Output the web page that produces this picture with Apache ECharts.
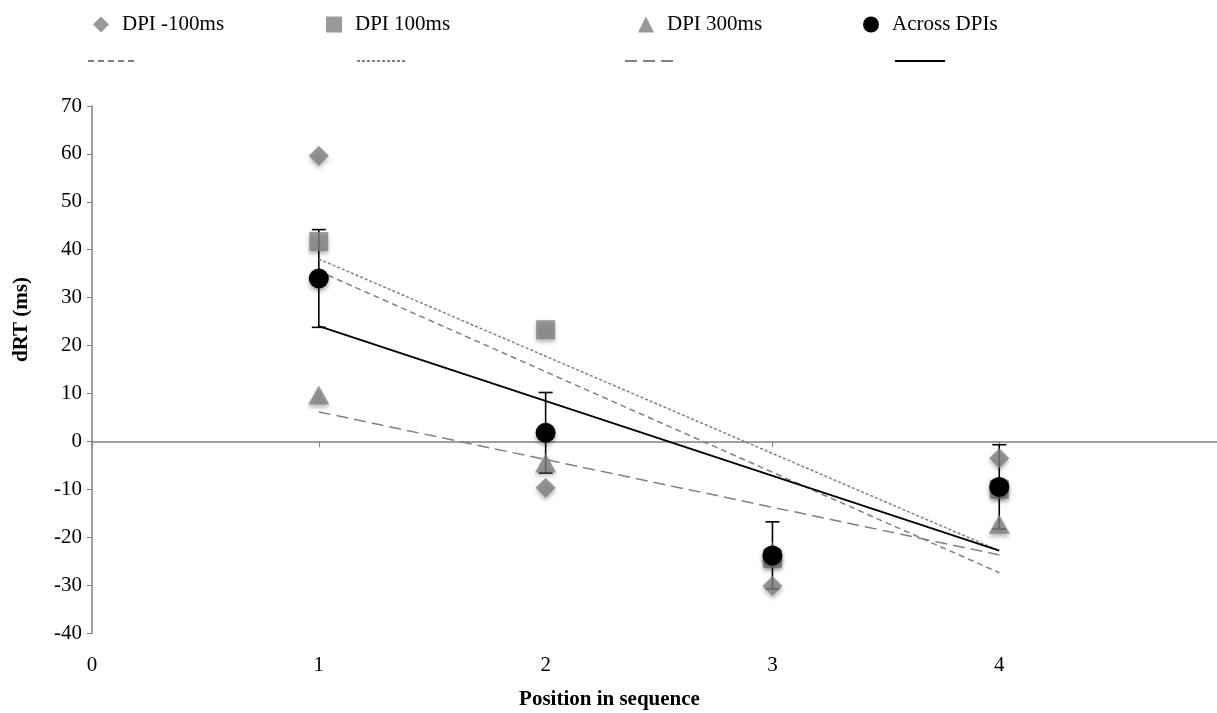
<!DOCTYPE html>
<html>
<head>
<meta charset="utf-8">
<script src="https://cdn.jsdelivr.net/npm/echarts@6/dist/echarts.min.js"></script>
<style>
  html, body { margin: 0; padding: 0; background: #fff; }
  #chart { width: 1217px; height: 713px; }
</style>
</head>
<body>
<div id="chart"></div>
<script>
// values
var positions = [1, 2, 3, 4];
var dpiMinus100 = [59.6, -9.7, -30.2, -3.5];
var dpi100 = [41.7, 23.3, -24.5, -10];
var dpi300 = [9.7, -4.5, -23, -17.3];
var acrossDpis = [34, 1.8, -23.8, -9.5];
var acrossErr = [10.2, 8.4, 7, 8.8];
var xTickLabels = ['0', '1', '2', '3', '4'];
var yTicks = { min: -40, max: 70, step: 10 };

var serif = 'Liberation Serif';
var gray = '#808080';

// least squares trend line, drawn over the data range like the spreadsheet does
function trend(ys) {
  var n = ys.length, mx = 0, my = 0;
  for (var i = 0; i < n; i++) { mx += positions[i]; my += ys[i]; }
  mx /= n; my /= n;
  var sxy = 0, sxx = 0;
  for (var j = 0; j < n; j++) {
    sxy += (positions[j] - mx) * (ys[j] - my);
    sxx += (positions[j] - mx) * (positions[j] - mx);
  }
  var b = sxy / sxx, a = my - b * mx;
  var x0 = positions[0], x1 = positions[n - 1];
  return [[x0, a + b * x0], [x1, a + b * x1]];
}

function pairs(ys) {
  return positions.map(function (x, i) { return [x, ys[i]]; });
}

var shadow = {
  shadowBlur: 4,
  shadowOffsetY: 3,
  shadowColor: 'rgba(0,0,0,0.35)'
};

function markerLegend(name, left) {
  return {
    data: [name],
    left: left,
    top: 9,
    itemWidth: 16,
    itemHeight: 16,
    textStyle: { fontFamily: serif, fontSize: 21, color: '#000', padding: [0, 0, 0, 8] },
    selectedMode: false
  };
}

function lineLegend(name, left) {
  return {
    data: [name],
    left: left,
    top: 49,
    itemWidth: 50,
    itemHeight: 14,
    itemStyle: { opacity: 0 },
    formatter: function () { return ''; },
    selectedMode: false
  };
}

function trendSeries(name, ys, color, width, dash) {
  return {
    name: name,
    type: 'line', z: 2, silent: true,
    showSymbol: false,
    data: trend(ys),
    itemStyle: { color: color },
    lineStyle: { color: color, width: width, type: dash }
  };
}

var option = {
  animation: false,
  legend: [
    markerLegend('DPI -100ms', 88),
    markerLegend('DPI 100ms', 321),
    markerLegend('DPI 300ms', 633),
    markerLegend('Across DPIs', 858),
    lineLegend('Linear (DPI -100ms)', 82),
    lineLegend('Linear (DPI 100ms)', 351),
    lineLegend('Linear (DPI 300ms)', 619),
    lineLegend('Linear (Across DPIs)', 889)
  ],
  grid: { left: 92, right: 0, top: 106, bottom: 80, outerBoundsMode: 'none' },
  xAxis: [{
    type: 'value',
    min: 0,
    max: 4.96,
    interval: 1,
    position: 'bottom',
    axisLine: { show: false, onZero: false },
    axisTick: { show: false },
    splitLine: { show: false },
    axisLabel: {
      margin: 22,
      fontFamily: serif,
      fontSize: 21,
      color: '#000',
      showMaxLabel: false,
      formatter: function (v) { return xTickLabels[v] || ''; }
    },
    name: 'Position in sequence',
    nameLocation: 'middle',
    nameGap: 56,
    nameTextStyle: { fontFamily: serif, fontSize: 21, fontWeight: 'bold', color: '#000', padding: [0, 90, 0, 0] }
  }, {
    type: 'value',
    min: 0,
    max: 4.96,
    interval: 1,
    axisLine: { show: true, onZero: true, lineStyle: { color: gray, width: 1.5 } },
    axisTick: { show: true, inside: true, length: 6, lineStyle: { color: gray } },
    axisLabel: { show: false },
    splitLine: { show: false }
  }],
  yAxis: {
    type: 'value',
    min: yTicks.min,
    max: yTicks.max,
    interval: yTicks.step,
    axisLine: { show: true, lineStyle: { color: gray, width: 1.5 } },
    axisTick: { show: true, length: 5, lineStyle: { color: gray } },
    splitLine: { show: false },
    axisLabel: { margin: 10, fontFamily: serif, fontSize: 21, color: '#000' },
    name: 'dRT (ms)',
    nameLocation: 'middle',
    nameGap: 60,
    nameTextStyle: { fontFamily: serif, fontSize: 21, fontWeight: 'bold', color: '#000', padding: [0, 0, 0, 100] }
  },
  series: [
    {
      name: 'err',
      type: 'custom',
      z: 1,
      silent: true,
      data: positions.map(function (x, i) { return [x, acrossDpis[i], acrossErr[i]]; }),
      renderItem: function (params, api) {
        var x = api.value(0), y = api.value(1), e = api.value(2);
        var top = api.coord([x, y + e]);
        var bot = api.coord([x, y - e]);
        var w = 7;
        var st = { stroke: '#000', lineWidth: 1.6 };
        return {
          type: 'group',
          children: [
            { type: 'line', shape: { x1: top[0], y1: top[1], x2: bot[0], y2: bot[1] }, style: st },
            { type: 'line', shape: { x1: top[0] - w, y1: top[1], x2: top[0] + w, y2: top[1] }, style: st },
            { type: 'line', shape: { x1: bot[0] - w, y1: bot[1], x2: bot[0] + w, y2: bot[1] }, style: st }
          ]
        };
      }
    },
    trendSeries('Linear (DPI -100ms)', dpiMinus100, gray, 1.5, [6, 4]),
    trendSeries('Linear (DPI 100ms)', dpi100, gray, 1.5, [3, 2]),
    trendSeries('Linear (DPI 300ms)', dpi300, gray, 1.5, [12, 6]),
    trendSeries('Linear (Across DPIs)', acrossDpis, '#000', 1.8, 'solid'),
    {
      name: 'DPI -100ms',
      type: 'scatter', z: 3,
      symbol: 'diamond', symbolSize: 20,
      data: pairs(dpiMinus100),
      itemStyle: Object.assign({ color: gray }, shadow)
    },
    {
      name: 'DPI 100ms',
      type: 'scatter', z: 3,
      symbol: 'rect', symbolSize: 19,
      data: pairs(dpi100),
      itemStyle: Object.assign({ color: gray }, shadow)
    },
    {
      name: 'DPI 300ms',
      type: 'scatter', z: 3,
      symbol: 'triangle', symbolSize: [21, 19],
      data: pairs(dpi300),
      itemStyle: Object.assign({ color: gray }, shadow)
    },
    {
      name: 'Across DPIs',
      type: 'scatter', z: 4,
      symbol: 'circle', symbolSize: 20,
      data: pairs(acrossDpis),
      itemStyle: Object.assign({ color: '#000', opacity: 1 }, shadow)
    }
  ]
};

var myChart = echarts.init(document.getElementById('chart'));
myChart.setOption(option);
</script>
</body>
</html>
